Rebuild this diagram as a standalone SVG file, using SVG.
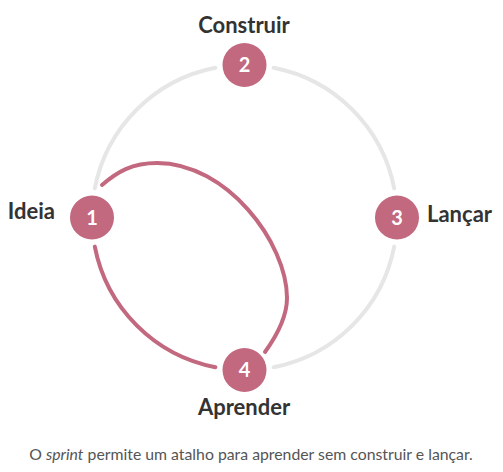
<svg xmlns="http://www.w3.org/2000/svg" width="503" height="472" viewBox="0 0 503 472">
<style>
.ring{fill:none;stroke:#e6e6e6;stroke-width:4;stroke-linecap:round}
.loop{fill:none;stroke:#c2687f;stroke-width:4;stroke-linecap:round}
.node{fill:#c2687f}
.num{font-family:Lato,"Noto Sans",sans-serif;font-weight:bold;font-size:20px;fill:#ffffff;text-anchor:middle}
.lbl{font-family:Lato,"Noto Sans",sans-serif;font-weight:bold;font-size:22px;fill:#333333}
.cap{font-family:Lato,"Noto Sans",sans-serif;font-size:15.8px;fill:#555555;text-anchor:middle}
</style>
<rect width="503" height="472" fill="#ffffff"/>
<g id="connectors">
<path class="ring" d="M94.8 188.4 A152.5 152.5 0 0 1 215.4 67.8"/>
<path class="ring" d="M273.6 67.8 A152.5 152.5 0 0 1 394.2 188.4"/>
<path class="ring" d="M394.2 246.6 A152.5 152.5 0 0 1 273.6 367.2"/>
<path class="loop" d="M215.4 367.2 A152.5 152.5 0 0 1 94.8 246.6"/>
<path class="loop" d="M102 185 C117 172 132 163 157 163 C227 163 287 243 287 298 C287 318 274 339.5 265 352"/>
</g>
<g id="node1">
<circle class="node" cx="92" cy="217.5" r="22"/>
<text class="num" x="92" y="224.5">1</text>
<text class="lbl" x="55" y="218.5" text-anchor="end">Ideia</text>
</g>
<g id="node2">
<circle class="node" cx="244.5" cy="65" r="22"/>
<text class="num" x="244.5" y="72">2</text>
<text class="lbl" x="244" y="33" text-anchor="middle">Construir</text>
</g>
<g id="node3">
<circle class="node" cx="397" cy="217.5" r="22"/>
<text class="num" x="397" y="224.5">3</text>
<text class="lbl" x="427" y="222" text-anchor="start">Lançar</text>
</g>
<g id="node4">
<circle class="node" cx="244.5" cy="370" r="22"/>
<text class="num" x="244.5" y="377">4</text>
<text class="lbl" x="244" y="415" text-anchor="middle">Aprender</text>
</g>
<text class="cap" x="251" y="460">O <tspan font-style="italic">sprint</tspan> permite um atalho para aprender sem construir e lançar.</text>
</svg>
